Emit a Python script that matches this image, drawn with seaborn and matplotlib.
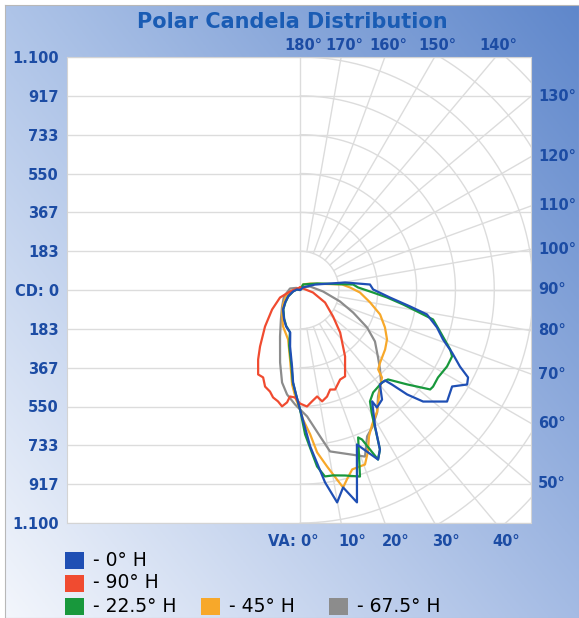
import numpy as np
import pandas as pd
import matplotlib
matplotlib.use("Agg")
import matplotlib.pyplot as plt
from matplotlib.patches import Rectangle
import seaborn as sns

# vertical angle (deg, negative = opposite half-plane drawn on the left) and candela
va_0 = [-180, -100, -78, -62, -50, -41, -28.5, -21, -13, -10, -6, -4.3, -2.2, 0, 3.7, 7.4, 9.9, 12.3, 15.0, 20.2,
        24.7, 26.6, 28.8, 32.9, 33.2, 36.8, 40.2, 43.2, 44.2, 45.7, 47.8, 52.8, 57.6, 60.5, 62.5, 64.4, 67.6, 70.9,
        74.7, 79.1, 81.5, 85.2, 90.4, 94.5, 99.5, 110, 130, 180]
cd_0 = [0, 15, 34, 64, 92, 122, 158, 184, 206, 271, 363, 438, 494, 564, 740, 916, 1018, 954, 1038, 777,
        881, 842, 735, 626, 663, 646, 584, 586, 623, 706, 784, 871, 850, 906, 894, 837, 776, 714,
        670, 610, 525, 426, 345, 331, 215, 75, 20, 0]

va_90 = [-180, -120, -81.5, -69.4, -55.1, -43.8, -35.3, -31.1, -26.4, -22.9, -19.9, -16.5, -14.1, -11.2, -8.8,
         -6.6, -5.4, -2.7, 0, 3.4, 6.1, 9.1, 11.2, 14.2, 16.8, 19.4, 24.1, 27.5, 34.1, 43.3, 51.2, 63.4, 79.1,
         120, 180]
cd_90 = [12, 15, 48, 101, 161, 239, 327, 383, 445, 448, 485, 500, 523, 536, 556,
         534, 505, 508, 536, 551, 529, 509, 536, 519, 491, 498, 463, 460, 379, 276, 200, 132, 62,
         15, 12]

va_22 = [-180, -100, -80, -62, -50, -41, -29, -21, -13.5, -11, -6.5, -4.5, -2.3, 0, 2, 5.5, 7.6, 10.1, 13.6, 17.8,
         21.5, 22.5, 24.7, 26.6, 28.2, 30, 32.1, 35.5, 41.6, 44.5, 48.6, 52.6, 54, 57.6, 62.5, 66.4, 68.4, 73.5,
         77.5, 79.6, 82, 85.1, 88, 92.5, 95.9, 111, 151, 180]
cd_22 = [0, 15, 32, 62, 90, 120, 155, 182, 205, 268, 360, 436, 492, 564, 682, 837, 888, 889, 901, 925,
         748, 764, 881, 842, 758, 679, 621, 594, 583, 592, 674, 773, 776, 771, 782, 783, 762, 689,
         643, 562, 491, 412, 345, 274, 252, 86, 30, 0]

va_45 = [-180, -100, -86, -65, -49.5, -36.3, -25, -13.6, -8.2, -4.8, -2.1, 0, 1.3, 4, 6, 8.7, 11, 12.3, 13.9, 16.2,
         20.4, 22.8, 25.2, 28.2, 32.4, 39.7, 43.1, 44.5, 47.8, 55, 60.4, 66.2, 73, 79.9, 87.6, 92.9, 97.5, 123,
         151, 180]
cd_45 = [0, 12, 38, 73, 105, 143, 190, 240, 331, 448, 517, 564, 611, 683, 771, 843, 911, 954, 921, 882,
         879, 827, 764, 720, 679, 592, 566, 526, 510, 490, 472, 438, 395, 336, 283, 236, 200, 56,
         30, 0]

va_67 = [-180, -120, -98.5, -68, -46, -33, -23.3, -15.4, -11, -7.1, -2.5, 0, 3.2, 7.8, 10.5, 16.9, 21.3, 24.6,
         27.6, 32.2, 36.2, 41.2, 45.2, 49.1, 55.5, 60.8, 67, 74, 86.3, 109.3, 130, 180]
cd_67 = [0, 20, 48, 82, 119, 166, 239, 355, 445, 497, 541, 564, 598, 698, 775, 811, 844, 760,
         733, 683, 623, 580, 532, 487, 429, 362, 272, 196, 109, 50, 20, 0]

planes = ["0° H", "90° H", "22.5° H", "45° H", "67.5° H"]
plane_va = [va_0, va_90, va_22, va_45, va_67]
plane_cd = [cd_0, cd_90, cd_22, cd_45, cd_67]
colors = ["#1f4fb4", "#f04b30", "#18983c", "#f7a82a", "#8c8c8c"]

cd_max = 1100
cd_labels = ["1.100", "917", "733", "550", "367", "183", "CD: 0", "183", "367", "550", "733", "917", "1.100"]
top_va = [180, 170, 160, 150, 140]
right_va = [130, 120, 110, 100, 90, 80, 70, 60, 50]
bottom_va = [0, 10, 20, 30, 40]

label_color = "#1c4ca4"
label_kw = dict(fontsize=10.5, fontweight="bold", color=label_color)

# long table for seaborn
rows = []
for name, va, cd in zip(planes, plane_va, plane_cd):
    a = np.radians(va)
    cd = np.array(cd, dtype=float)
    for i, (xx, yy) in enumerate(zip(cd * np.sin(a), -cd * np.cos(a))):
        rows.append({"plane": name, "step": i, "x": xx, "y": yy})
df = pd.DataFrame(rows)

sns.set_style("white")
plt.rcParams["font.family"] = ["DejaVu Sans"]

W, H = 579, 618
fig = plt.figure(figsize=(W / 100, H / 100), dpi=100)
fig.patch.set_facecolor("white")

# gradient background panel
bg = fig.add_axes([5 / W, 0, 1 - 5 / W, 1 - 5 / H])
gx = np.linspace(0, 1, 200)[None, :, None]
gy = np.linspace(0, 1, 200)[:, None, None]
tl = np.array([0xae, 0xc4, 0xe8]) / 255
tr = np.array([0x5f, 0x87, 0xcb]) / 255
bl = np.array([0xf3, 0xf6, 0xfc]) / 255
br = np.array([0xa4, 0xbb, 0xe4]) / 255
grad = (1 - gy) * ((1 - gx) * tl + gx * tr) + gy * ((1 - gx) * bl + gx * br)
bg.imshow(grad, aspect="auto", extent=[0, 1, 0, 1], origin="upper")
bg.set_xlim(0, 1)
bg.set_ylim(0, 1)
for s in bg.spines.values():
    s.set_color("#b8b8b8")
    s.set_linewidth(0.8)
bg.set_xticks([])
bg.set_yticks([])

ax = fig.add_axes([67 / W, (H - 523) / H, 464 / W, 466 / H])
ax.set_facecolor("white")
ax.set_xlim(-1100, 1090)
ax.set_ylim(-1100, 1100)

grid_kw = dict(color="#dcdcdc", lw=1.0, zorder=1)
cd_ticks = np.linspace(-cd_max, cd_max, 13)
for yv in cd_ticks:
    ax.axhline(yv, **grid_kw)
ax.axvline(0, **grid_kw)

# polar grid on the right half
step = cd_max / 6
t = np.radians(np.linspace(0, 180, 361))
for k in range(1, 9):
    r = k * step
    ax.plot(r * np.sin(t), -r * np.cos(t), **grid_kw)
for a in range(10, 180, 10):
    ar = np.radians(a)
    rr = np.array([step, 3000])
    ax.plot(rr * np.sin(ar), -rr * np.cos(ar), **grid_kw)

draw_order = ["67.5° H", "45° H", "22.5° H", "90° H", "0° H"]
sns.lineplot(data=df, x="x", y="y", hue="plane", hue_order=draw_order, units="plane",
             estimator=None, sort=False, palette=dict(zip(planes, colors)),
             linewidth=1.6, legend=False, ax=ax, zorder=3)

ax.set_xlabel("")
ax.set_ylabel("")
ax.set_xticks([])
ax.set_yticks(cd_ticks)
ax.set_yticklabels(cd_labels)
ax.tick_params(axis="y", length=0, pad=6, labelsize=10.5, labelcolor=label_color)
for lab in ax.get_yticklabels():
    lab.set_fontweight("bold")
for s in ax.spines.values():
    s.set_color("#d4d4d4")
    s.set_linewidth(0.8)

# angle labels where radial lines leave the box
for a in top_va:
    xv = cd_max * np.tan(np.radians(180 - a))
    ax.annotate(f"{a}°", xy=(xv, 1), xycoords=("data", "axes fraction"), xytext=(3, 12),
                textcoords="offset pixels", ha="center", va="center", **label_kw)
for a in bottom_va:
    xv = cd_max * np.tan(np.radians(a))
    if a == 0:
        ax.annotate("VA: 0°", xy=(xv, 0), xycoords=("data", "axes fraction"), xytext=(18, -18),
                    textcoords="offset pixels", ha="right", va="center", **label_kw)
    else:
        ax.annotate(f"{a}°", xy=(xv, 0), xycoords=("data", "axes fraction"), xytext=(-3, -18),
                    textcoords="offset pixels", ha="left", va="center", **label_kw)
for a in right_va:
    yv = -1090 * np.cos(np.radians(a)) / np.sin(np.radians(a))
    ax.annotate(f"{a}°", xy=(1, yv), xycoords=("axes fraction", "data"), xytext=(7, 0),
                textcoords="offset pixels", ha="left", va="center", **label_kw)

fig.text(292 / W, 1 - 22 / H, "Polar Candela Distribution", ha="center", va="center",
         fontsize=15, fontweight="bold", color="#1a5cb4")

# legend: two single rows, then three entries in one row
legend_pos = [(65, 560), (65, 583), (65, 606), (201, 606), (329, 606)]
for name, c, (lx, ly) in zip(planes, colors, legend_pos):
    fig.patches.append(Rectangle((lx / W, (H - ly - 8.5) / H), 19 / W, 17 / H,
                                 transform=fig.transFigure, facecolor=c, edgecolor="none"))
    fig.text((lx + 28) / W, (H - ly) / H, f"- {name}", ha="left", va="center",
             fontsize=13.5, color="black")

fig.savefig("out.png", dpi=100)
